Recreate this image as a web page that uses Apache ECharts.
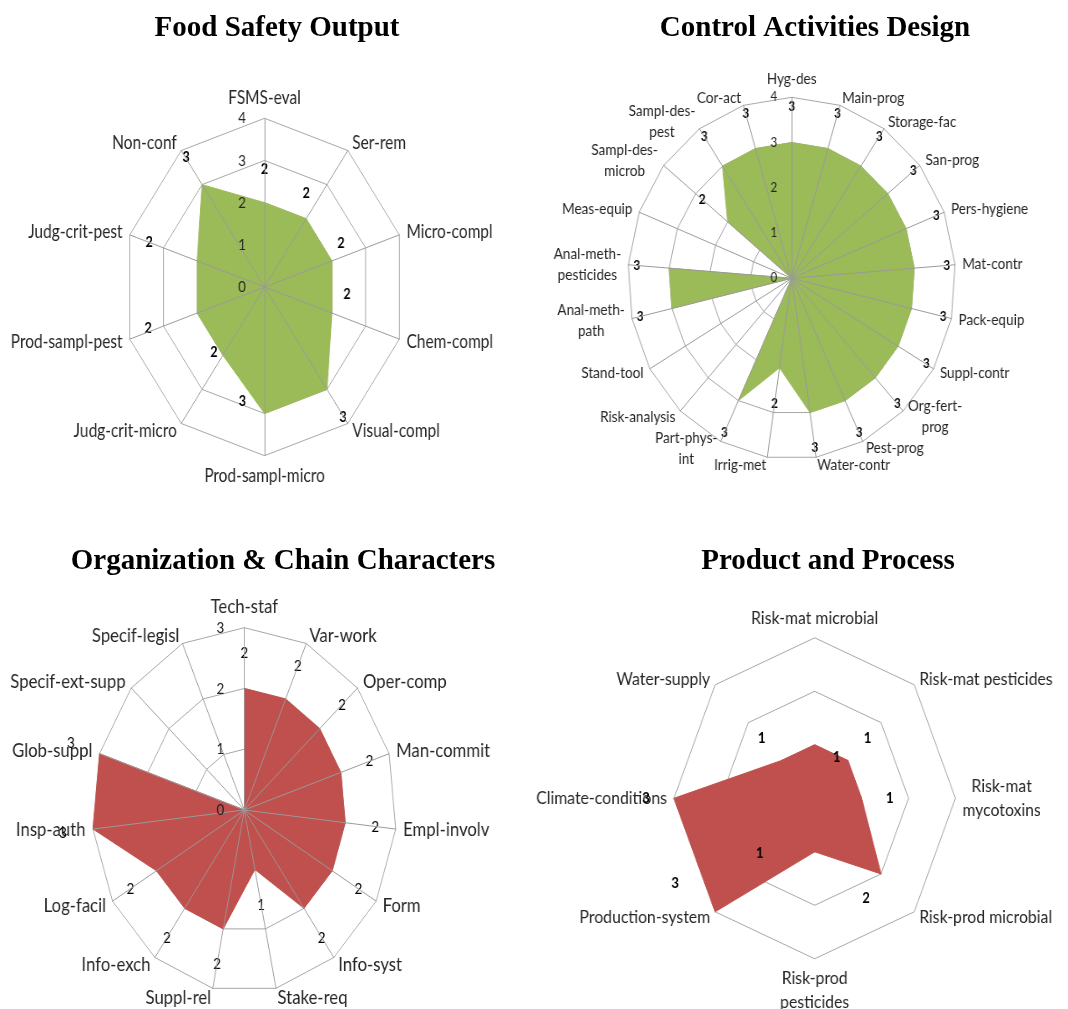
<!DOCTYPE html>
<html><head><meta charset="utf-8">
<script src="https://cdn.jsdelivr.net/npm/echarts@6/dist/echarts.min.js"></script>
<style>
html,body{margin:0;padding:0;background:#fff;overflow:hidden;}
#titles{position:absolute;left:0;top:0;width:1068px;height:1009px;}
.rc{position:absolute;transform-origin:0 0;}
</style></head><body>
<div id="titles"></div>
<div id="c1" class="rc"></div>
<div id="c2" class="rc"></div>
<div id="c3" class="rc"></div>
<div id="c4" class="rc"></div>
<script>
// ---------- data ----------
const chartTitles = ['Food Safety Output', 'Control Activities Design', 'Organization & Chain Characters', 'Product and Process'];

const fsoCategories = ['FSMS-eval', 'Ser-rem', 'Micro-compl', 'Chem-compl', 'Visual-compl', 'Prod-sampl-micro',
  'Judg-crit-micro', 'Prod-sampl-pest', 'Judg-crit-pest', 'Non-conf'];
const fsoValues = [2, 2, 2, 2, 3, 3, 2, 2, 2, 3];
const fsoMax = 4;

const cadCategories = ['Hyg-des', 'Main-prog', 'Storage-fac', 'San-prog', 'Pers-hygiene', 'Mat-contr', 'Pack-equip',
  'Suppl-contr', 'Org-fert-\nprog', 'Pest-prog', 'Water-contr', 'Irrig-met', 'Part-phys-\nint', 'Risk-analysis',
  'Stand-tool', 'Anal-meth-\npath', 'Anal-meth-\npesticides', 'Meas-equip', 'Sampl-des-\nmicrob', 'Sampl-des-\npest', 'Cor-act'];
const cadValues = [3, 3, 3, 3, 3, 3, 3, 3, 3, 3, 3, 2, 3, 0, 0, 3, 3, 0, 2, 3, 3];
const cadMax = 4;

const occCategories = ['Tech-staf', 'Var-work', 'Oper-comp', 'Man-commit', 'Empl-involv', 'Form', 'Info-syst',
  'Stake-req', 'Suppl-rel', 'Info-exch', 'Log-facil', 'Insp-auth', 'Glob-suppl', 'Specif-ext-supp', 'Specif-legisl'];
const occValues = [2, 2, 2, 2, 2, 2, 2, 1, 2, 2, 2, 3, 3, 0, 0];
const occMax = 3;

const ppCategories = ['Risk-mat microbial', 'Risk-mat pesticides', 'Risk-mat\nmycotoxins', 'Risk-prod microbial',
  'Risk-prod\npesticides', 'Production-system', 'Climate-conditions', 'Water-supply'];
const ppValues = [1, 1, 1, 2, 1, 3, 3, 1];
const ppMax = 3;

// ---------- styling ----------
const FONT = 'Lato';
const TEXT = '#262626';
const GRID = '#A6A6A6';
const SPOKE = '#9A9A9A';
const GREEN = '#9BBB59';
const RED = '#C0504D';

// per-category data-label nudges (screen px, relative to the vertex), as placed in the original
const fsoLabelNudge = { 0: [0, -33], 1: [0, -26], 2: [9, -18], 3: [15, -19], 4: [16, 28], 5: [-22, -12],
  6: [-9, -3], 7: [-49, 15], 8: [-48, -19], 9: [-16, -27] };
const ppLabelNudge = { 0: [22, 12], 3: [-15, 24], 4: [-55, 1], 5: [-40, -29] };

// Excel draws clockwise; ECharts radar goes counter-clockwise -> reorder
function clockwise(arr) { return [arr[0]].concat(arr.slice(1).reverse()); }

function makeChart(cfg) {
  const el = document.getElementById(cfg.id);
  el.style.left = cfg.left + 'px';
  el.style.top = cfg.top + 'px';
  el.style.width = cfg.width + 'px';
  el.style.height = cfg.height + 'px';
  el.style.transform = 'scaleX(' + cfg.sx + ')';
  const chart = echarts.init(el);
  const n = cfg.categories.length;
  const cats = clockwise(cfg.categories);
  const vals = clockwise(cfg.values);

  const baseInd = cats.map(c => ({ name: c, min: 0, max: cfg.max }));
  const overInd = cats.map((c, i) => {
    const o = { name: '', min: 0, max: cfg.max };
    if (i === 0 && cfg.ticks) {
      o.axisLabel = { show: true, fontFamily: FONT, fontSize: cfg.tickSize, color: TEXT, margin: cfg.tickMargin };
    }
    return o;
  });

  const radars = [{
    center: [cfg.cx, cfg.cy], radius: cfg.R, startAngle: 90, shape: 'polygon',
    splitNumber: cfg.split, indicator: baseInd, z: 0,
    axisName: {
      show: true, color: TEXT, fontFamily: FONT, fontSize: cfg.nameSize,
      formatter: v => v.split('\n').map(l => '{c|' + l + '}').join('\n'),
      rich: { c: { align: 'center', fontFamily: FONT, fontSize: cfg.nameSize, color: TEXT, lineHeight: cfg.nameLine } }
    },
    nameGap: cfg.nameGap,
    splitLine: { show: true, lineStyle: { color: GRID, width: 1 } },
    splitArea: { show: false },
    axisLine: { show: false },
    axisTick: { show: false },
    axisLabel: { show: false }
  }];
  if (cfg.spokes) {
    radars.push({
      center: [cfg.cx, cfg.cy], radius: cfg.R, startAngle: 90, shape: 'polygon',
      splitNumber: cfg.split, indicator: overInd, z: 5,
      axisName: { show: false },
      splitLine: { show: false }, splitArea: { show: false },
      axisLine: { show: true, lineStyle: { color: SPOKE, width: 1 } },
      axisTick: { show: false },
      axisLabel: { show: false }
    });
  }

  const step = 2 * Math.PI / n;
  chart.setOption({
    animation: false,
    backgroundColor: 'transparent',
    radar: radars,
    series: [{
      type: 'radar', radarIndex: 0, z: 2,
      symbol: 'circle', symbolSize: 1,
      itemStyle: { color: cfg.fill },
      lineStyle: { color: cfg.fill, width: 1 },
      areaStyle: { color: cfg.fill, opacity: 1 },
      label: {
        show: true, position: 'inside', color: '#000', fontFamily: FONT,
        fontSize: cfg.labelSize, fontWeight: cfg.labelBold ? 'bold' : 'normal',
        formatter: p => (p.value > 0 ? String(p.value) : '')
      },
      labelLayout: function (p) {
        const r = p.rect;
        const px = r.x + r.width / 2, py = r.y + r.height / 2;
        const dx = px - cfg.cx, dy = py - cfg.cy;
        const len = Math.hypot(dx, dy);
        if (len < 1) return {};
        let a = Math.atan2(dx, -dy);
        if (a < 0) a += 2 * Math.PI;
        const idx = Math.round(a / step) % n;
        const nudge = cfg.nudge && cfg.nudge[idx];
        if (nudge) return { dx: nudge[0] / cfg.sx, dy: nudge[1] };
        return { dx: dx / len * cfg.labelDist, dy: dy / len * cfg.labelDist };
      },
      data: [{ value: vals, name: cfg.name }]
    }]
  });
}

// titles (not compressed)
const tChart = echarts.init(document.getElementById('titles'));
const titleX = [277, 815, 283, 828];
const titleY = [14, 14, 547, 547];
tChart.setOption({
  animation: false,
  backgroundColor: '#fff',
  title: chartTitles.map((t, i) => ({
    text: t, left: titleX[i], top: titleY[i], textAlign: 'center', padding: 0,
    textStyle: { fontFamily: 'Liberation Serif', fontWeight: 'bold', fontSize: 29, color: '#000' }
  }))
});

makeChart({ id: 'c1', name: chartTitles[0], categories: fsoCategories, values: fsoValues, max: fsoMax, split: 4,
  left: 0, top: 0, width: 636, height: 520, sx: 0.84, cx: 314.9, cy: 287, R: 168.7,
  nameSize: 18.4, nameLine: 22, nameGap: 9, labelSize: 15, labelBold: true, labelDist: 30, tickSize: 16, tickMargin: 22,
  fill: GREEN, ticks: true, spokes: true, nudge: fsoLabelNudge });

makeChart({ id: 'c2', name: chartTitles[1], categories: cadCategories, values: cadValues, max: cadMax, split: 4,
  left: 520, top: 0, width: 605, height: 520, sx: 0.905, cx: 300.2, cy: 278.3, R: 181,
  nameSize: 15, nameLine: 21, nameGap: 8, labelSize: 13, labelBold: true, labelDist: 36, tickSize: 13, tickMargin: 16,
  fill: GREEN, ticks: true, spokes: true });

makeChart({ id: 'c3', name: chartTitles[2], categories: occCategories, values: occValues, max: occMax, split: 3,
  left: 0, top: 520, width: 640, height: 489, sx: 0.835, cx: 292.6, cy: 290, R: 182.3,
  nameSize: 20, nameLine: 24, nameGap: 9, labelSize: 16, labelBold: false, labelDist: 36, tickSize: 16, tickMargin: 24,
  fill: RED, ticks: true, spokes: true });

makeChart({ id: 'c4', name: chartTitles[3], categories: ppCategories, values: ppValues, max: ppMax, split: 3,
  left: 520, top: 520, width: 625, height: 489, sx: 0.877, cx: 336, cy: 278.3, R: 160.5,
  nameSize: 18, nameLine: 23.5, nameGap: 8, labelSize: 15, labelBold: true, labelDist: 32, tickSize: 15, tickMargin: 8,
  fill: RED, ticks: false, spokes: false, nudge: ppLabelNudge });
</script>
</body></html>
